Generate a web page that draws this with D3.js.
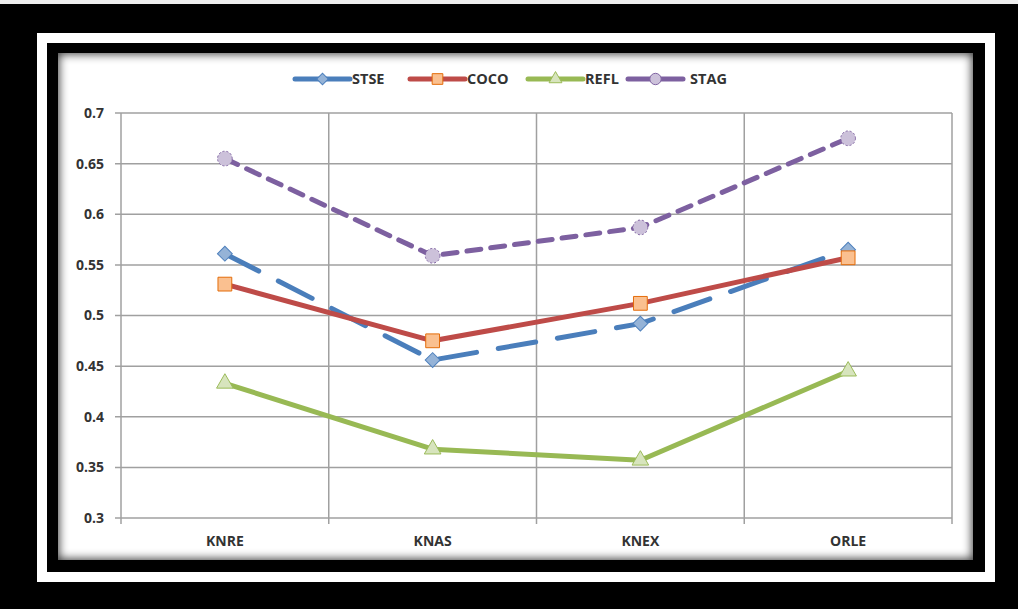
<!DOCTYPE html>
<html>
<head>
<meta charset="utf-8">
<script src="https://d3js.org/d3.v7.min.js"></script>
<style>
  body { margin: 0; background: #000; }
  svg { display: block; }
  text { font-family: "Open Sans", "DejaVu Sans", sans-serif; font-weight: bold; fill: #333; }
</style>
</head>
<body>
<svg id="chart"></svg>
<script>
// declare the size of the picture
var width = 1018;
var height = 609;

// data
var categories = ["KNRE", "KNAS", "KNEX", "ORLE"];
var seriesNames = ["STSE", "COCO", "REFL", "STAG"];
var stse = [0.561, 0.456, 0.492, 0.565];
var coco = [0.531, 0.475, 0.512, 0.557];
var refl = [0.433, 0.368, 0.357, 0.445];
var stag = [0.655, 0.559, 0.587, 0.675];
var yTicks = [0.3, 0.35, 0.4, 0.45, 0.5, 0.55, 0.6, 0.65, 0.7];
var yTickLabels = ["0.3", "0.35", "0.4", "0.45", "0.5", "0.55", "0.6", "0.65", "0.7"];

// styles for each series (diamond = square turned 45 degrees)
var styles = {
    STSE: { line: "#4a7ebb", fill: "#95b3d7", stroke: "#4f81bd", dash: "38,22", shape: d3.symbolSquare, rot: 45, size: 110 },
    COCO: { line: "#be4b48", fill: "#fac090", stroke: "#e46c0a", dash: null, shape: d3.symbolSquare, rot: 0, size: 190 },
    REFL: { line: "#98b954", fill: "#d7e4bd", stroke: "#9bbb59", dash: null, shape: d3.symbolTriangle, rot: 0, size: 120 },
    STAG: { line: "#7d60a0", fill: "#ccc1da", stroke: "#8064a2", dash: "14,10", shape: d3.symbolCircle, rot: 0, size: 170 }
};
var seriesValues = { STSE: stse, COCO: coco, REFL: refl, STAG: stag };

var svg = d3.select("#chart")
    .attr("width", width)
    .attr("height", height);

var defs = svg.append("defs");

// frame: black outside, white band, black band, chart area
svg.append("rect").attr("width", width).attr("height", height).attr("fill", "#000");
svg.append("rect").attr("width", width).attr("height", 4).attr("fill", "#eee");
svg.append("rect").attr("x", 37).attr("y", 33).attr("width", 958).attr("height", 549).attr("fill", "#fff");
svg.append("rect").attr("x", 47).attr("y", 43).attr("width", 938).attr("height", 529).attr("fill", "#000");

var area = { x: 58, y: 53, w: 915, h: 507 };

defs.append("clipPath").attr("id", "areaClip")
    .append("rect")
    .attr("x", area.x).attr("y", area.y)
    .attr("width", area.w).attr("height", area.h);

defs.append("filter").attr("id", "blur")
    .attr("x", "-10%").attr("y", "-10%").attr("width", "120%").attr("height", "120%")
    .append("feGaussianBlur").attr("stdDeviation", 5);

svg.append("rect")
    .attr("x", area.x).attr("y", area.y)
    .attr("width", area.w).attr("height", area.h)
    .attr("fill", "#fff");

// inner shadow along the edges of the chart area
svg.append("g")
    .attr("clip-path", "url(#areaClip)")
    .append("rect")
    .attr("x", area.x - 4).attr("y", area.y - 4)
    .attr("width", area.w + 8).attr("height", area.h + 8)
    .attr("fill", "none")
    .attr("stroke", "#000")
    .attr("stroke-opacity", 0.8)
    .attr("stroke-width", 10)
    .attr("filter", "url(#blur)");

// plot area
var plot = { left: 121, right: 952, top: 113, bottom: 518 };

var x = d3.scaleBand()
    .domain(categories)
    .range([plot.left, plot.right]);

var y = d3.scaleLinear()
    .domain([0.3, 0.7])
    .range([plot.bottom, plot.top]);

var grid = svg.append("g")
    .attr("stroke", "#a0a0a0")
    .attr("stroke-width", 1.5);

// horizontal grid lines with short ticks on the left
grid.selectAll("line.h")
    .data(yTicks)
    .join("line")
    .attr("class", "h")
    .attr("x1", plot.left - 6)
    .attr("x2", plot.right)
    .attr("y1", (d) => y(d))
    .attr("y2", (d) => y(d));

// vertical grid lines between categories
var bounds = categories.map((c) => x(c)).concat([plot.right]);
grid.selectAll("line.v")
    .data(bounds)
    .join("line")
    .attr("class", "v")
    .attr("x1", (d) => d)
    .attr("x2", (d) => d)
    .attr("y1", plot.top)
    .attr("y2", plot.bottom + 6);

// y labels
svg.append("g")
    .selectAll("text")
    .data(yTicks)
    .join("text")
    .attr("x", 104)
    .attr("y", (d) => y(d))
    .attr("dy", "0.35em")
    .attr("text-anchor", "end")
    .style("font-size", "14px")
    .text((d, i) => yTickLabels[i]);

// x labels
svg.append("g")
    .selectAll("text")
    .data(categories)
    .join("text")
    .attr("x", (d) => x(d) + x.bandwidth() / 2)
    .attr("y", 541)
    .attr("dy", "0.35em")
    .attr("text-anchor", "middle")
    .style("font-size", "14px")
    .text((d) => d);

var line = d3.line()
    .x((d, i) => x(categories[i]) + x.bandwidth() / 2)
    .y((d) => y(d));

// lines and markers for each series
seriesNames.forEach(function (name) {
    var st = styles[name];
    var vals = seriesValues[name];
    var g = svg.append("g");

    g.append("path")
        .datum(vals)
        .attr("d", line)
        .attr("fill", "none")
        .attr("stroke", st.line)
        .attr("stroke-width", 5)
        .attr("stroke-linecap", "round")
        .attr("stroke-linejoin", "round")
        .attr("stroke-dasharray", st.dash);

    g.selectAll("path.m")
        .data(vals)
        .join("path")
        .attr("class", "m")
        .attr("transform", (d, i) => "translate(" + (x(categories[i]) + x.bandwidth() / 2) + "," + y(d) + ") rotate(" + st.rot + ")")
        .attr("d", d3.symbol().type(st.shape).size(st.size))
        .attr("fill", st.fill)
        .attr("stroke", st.stroke)
        .attr("stroke-width", 1)
        .attr("stroke-dasharray", name == "STAG" ? "2,2" : null);
});

// legend
var legendX = [295, 410, 528, 628];
var legend = svg.append("g");
seriesNames.forEach(function (name, i) {
    var st = styles[name];
    var lg = legend.append("g").attr("transform", "translate(" + legendX[i] + ",79)");
    lg.append("line")
        .attr("x1", 0).attr("x2", 55)
        .attr("stroke", st.line)
        .attr("stroke-width", 5)
        .attr("stroke-linecap", "round");
    lg.append("path")
        .attr("transform", "translate(27.5,0) rotate(" + st.rot + ")")
        .attr("d", d3.symbol().type(st.shape).size(st.size * 0.6))
        .attr("fill", st.fill)
        .attr("stroke", st.stroke)
        .attr("stroke-width", 1);
    lg.append("text")
        .attr("x", name == "STAG" ? 62 : 57)
        .attr("dy", "0.35em")
        .style("font-size", "14.5px")
        .text(name);
});
</script>
</body>
</html>
